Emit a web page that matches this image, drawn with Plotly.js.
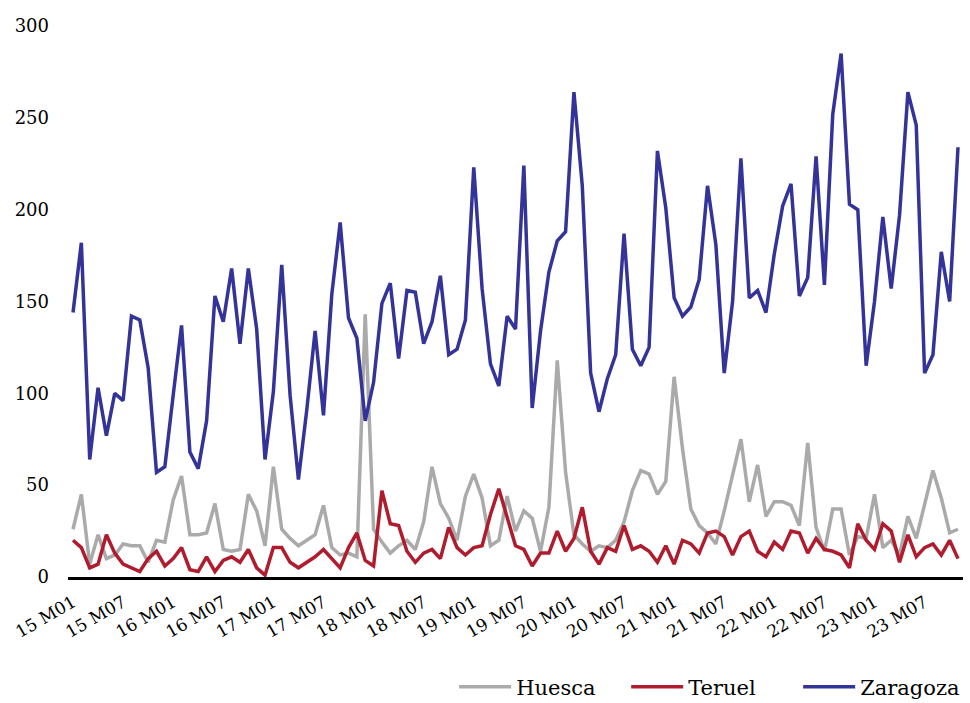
<!DOCTYPE html>
<html>
<head>
<meta charset="utf-8">
<script src="https://cdn.plot.ly/plotly-3.0.1.min.js"></script>
<style>html,body{margin:0;padding:0;background:#fff;}#chart{width:970px;height:703px;}</style>
</head>
<body>
<div id="chart"></div>
<script>
// Months 2015 M01 .. 2023 M11
const years = ["15","16","17","18","19","20","21","22","23"];
const months = ["M01","M02","M03","M04","M05","M06","M07","M08","M09","M10","M11","M12"];
const categories = [];
years.forEach(y => months.forEach(m => categories.push(y + " " + m)));
categories.length = 107;

const huesca = [26,45,7,23,10,12,18,17,17,8,20,19,42,55,23,23,24,40,15,14,
  15,45,36,17,60,26,21,17,20,23,39,16,12,13,11,143,26,19,13,17,
  20,15,30,60,40,32,20,44,56,43,17,20,44,25,36,32,14,38,118,57,
  23,18,14,17,16,20,30,47,58,56,45,52,109,70,37,28,24,18,36,55,
  75,41,61,33,41,41,39,28,73,27,14,37,37,12,22,21,45,16,20,12,
  33,21,39,58,43,24,26];

const teruel = [20,16,5,7,23,13,7,5,3,10,14,6,10,16,4,3,11,3,9,11,
  8,15,5,1,16,16,8,5,8,11,15,10,5,16,24,9,6,47,29,28,
  14,8,13,15,10,27,16,12,16,17,34,48,32,17,15,6,13,13,25,14,
  21,38,14,7,16,14,28,15,17,14,8,17,7,20,18,13,24,25,22,12,
  22,25,14,11,19,15,25,24,13,21,15,14,12,5,29,20,15,29,25,8,
  23,11,16,18,12,20,10];

const zaragoza = [144,182,64,103,77,100,96,142,140,114,57,60,99,137,68,59,85,153,139,168,
  127,168,135,64,101,170,99,53,91,134,88,154,193,141,130,85,106,149,160,119,
  156,155,127,139,164,121,124,140,223,157,116,104,142,135,224,92,134,166,183,188,
  264,213,111,90,108,121,187,124,115,125,232,201,152,142,147,162,213,181,111,150,
  228,152,156,144,176,202,214,153,163,229,159,252,285,203,200,115,150,196,157,197,
  264,246,111,121,177,150,234];

const tickVals = categories.filter((c, i) => i % 6 === 0);

const font = "DejaVu Serif, Liberation Serif, serif";

const traces = [
  {name: "Huesca", y: huesca, color: "#aaaaaa"},
  {name: "Teruel", y: teruel, color: "#b01c2e"},
  {name: "Zaragoza", y: zaragoza, color: "#33339a"}
].map(s => ({
  type: "scatter", mode: "lines", name: s.name,
  x: categories, y: s.y,
  line: {color: s.color, width: 3.5}
}));

const layout = {
  width: 970, height: 703,
  margin: {l: 68, r: 7, t: 26, b: 126, autoexpand: false},
  paper_bgcolor: "#fff", plot_bgcolor: "#fff",
  font: {family: font, color: "#000", size: 17},
  showlegend: true,
  legend: {orientation: "h", x: 1.008, xanchor: "right", y: -0.2, yanchor: "middle",
    font: {family: font, size: 21, color: "#000"}, itemwidth: 52,
    entrywidth: 105, entrywidthmode: "pixels", tracegroupgap: 0},
  xaxis: {type: "category", range: [-0.6, 106.6], tickmode: "array",
    tickvals: tickVals, ticktext: tickVals, tickangle: -30, automargin: false,
    showgrid: false, zeroline: false, showline: true, linecolor: "#000", linewidth: 3,
    ticks: "", ticklabelstandoff: 6, tickfont: {family: font, size: 17, color: "#000"}},
  yaxis: {range: [0, 300], tickvals: [0, 50, 100, 150, 200, 250, 300], automargin: false,
    showgrid: false, zeroline: false, showline: false, ticks: "", ticklabelstandoff: 18,
    tickfont: {family: font, size: 18, color: "#000"}}
};

Plotly.newPlot("chart", traces, layout, {displayModeBar: false, staticPlot: true});
</script>
</body>
</html>
